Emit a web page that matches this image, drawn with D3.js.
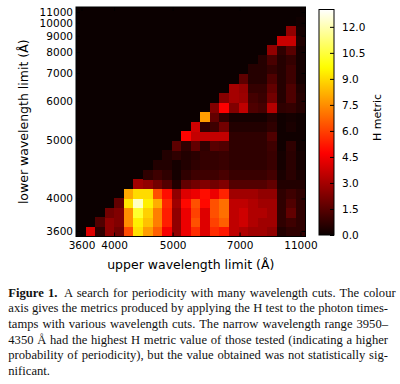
<!DOCTYPE html>
<html><head><meta charset="utf-8">
<script src="https://cdn.jsdelivr.net/npm/d3@7"></script>
<style>body{margin:0;background:#fff}svg{display:block}</style>
</head><body><svg id="c" width="400" height="384"></svg>
<script>
// number of wavelength bins along each axis
const nBins = 24;
// H metric; row i = lower-limit bin i (bottom to top); values start at upper-limit bin i+1
const hRows = [
  [4.1,0.7,2.6,2.0,6.2,9.1,7.8,6.6,4.6,2.6,4.4,5.6,4.1,5.6,5.2,3.5,3.2,2.9,2.9,2.6,0.45,0.7,0.7],
  [1.35,2.6,2.3,7.5,9.4,8.5,7.2,5.3,2.6,4.4,6.3,4.1,6.0,6.6,3.5,3.8,3.2,2.9,2.9,0.7,1.0,0.7],
  [2.0,2.3,7.5,10.3,8.8,7.2,5.3,2.6,4.4,6.0,4.1,6.3,6.9,3.5,3.8,3.2,3.2,2.9,0.7,1.7,0.7],
  [1.7,9.2,12.2,9.4,8.1,5.5,2.9,4.9,6.3,4.9,6.3,6.9,3.5,3.5,3.2,2.9,2.9,0.7,1.35,0.7],
  [8.0,9.0,9.0,6.3,5.0,2.6,4.1,4.4,5.0,4.4,5.4,2.9,2.9,2.9,2.6,2.6,0.7,1.0,0.7],
  [2.9,2.6,2.0,1.4,0.45,1.7,2.0,2.3,2.0,2.3,1.4,1.4,1.4,1.4,1.7,0.45,0.45,0.45],
  [0.7,1.0,0.7,0.2,0.7,1.0,1.0,1.0,1.2,0.9,0.9,0.9,0.9,1.1,0.3,0.6,0.3],
  [0.45,0.45,0.2,0.45,0.7,0.8,0.8,0.9,0.7,0.7,0.7,0.7,0.9,0.2,0.6,0.2],
  [0.45,0.7,0.45,0.6,0.8,0.8,0.9,0.7,0.7,0.7,0.7,0.9,0.2,0.6,0.2],
  [1.6,0.7,1.7,0.7,1.5,1.35,0.7,0.7,0.7,0.7,1.0,0.1,0.7,0.1],
  [4.8,3.6,3.6,3.6,3.6,0.7,0.7,0.7,0.7,1.35,0.1,0.1,0.1],
  [3.8,0.7,1.0,2.0,0.45,0.45,0.45,0.45,0.7,0.1,0.3,0.1],
  [7.8,1.7,0.7,0.2,0.2,0.2,0.2,0.5,0.1,0.2,0.1],
  [2.3,4.7,2.3,3.5,1.3,1.1,3.3,0.7,0.8,0.5],
  [2.4,3.0,2.8,1.1,0.9,2.0,0.5,1.3,0.5],
  [3.0,2.7,0.8,0.8,1.7,0.5,1.3,0.4],
  [1.6,0.5,0.5,1.3,0.5,1.0,0.2],
  [0.5,0.5,0.8,0.5,1.0,0.2],
  [0.5,1.2,0.5,0.8,0.2],
  [2.6,0.7,1.5,0.2],
  [3.7,3.7,0.4],
  [2.6,0.2],
  [0.1]
];
const xTickLabels = [3600,4000,5000,7000,11000];
const yTickLabels = [3600,4000,5000,6000,7000,8000,9000,10000,11000];
const cbTicks = [0,1.5,3,4.5,6,7.5,9,10.5,12];
const invLambdaEdges = [2.8249e-4, 0.8657e-4]; // 1/Å at the two ends of the grid
const hMin = 0, hMax = 13.0;
const captionLines = [
  "A search for periodicity with many wavelength cuts. The colour",
  "axis gives the metrics produced by applying the H test to the photon times-",
  "tamps with various wavelength cuts. The narrow wavelength range 3950–",
  "4350 Å had the highest H metric value of those tested (indicating a higher",
  "probability of periodicity), but the value obtained was not statistically sig-",
  "nificant."
];

const svg = d3.select("#c");
const L = 76, R = 305.5, T = 7, B = 236.5;
const sans = "DejaVu Sans";

// colormap (matplotlib 'hot')
const hot = d3.scaleLinear()
  .domain([0, 0.365079, 0.746032, 1].map(t => hMin + t*(hMax-hMin)))
  .range(["#0b0000","#ff0000","#ffff00","#ffffff"])
  .interpolate(d3.interpolateRgb).clamp(true);

const xb = d3.scaleBand().domain(d3.range(nBins)).range([L, R]);
const yb = d3.scaleBand().domain(d3.range(nBins)).range([B, T]);
const xs = d3.scaleLinear().domain(invLambdaEdges).range([L, R]);
const ys = d3.scaleLinear().domain(invLambdaEdges).range([B, T]);

svg.append("rect").attr("x", L).attr("y", T).attr("width", R-L).attr("height", B-T).attr("fill", hot(0));

const cells = [];
hRows.forEach((row, i) => row.forEach((v, k) => cells.push({r: i, c: i+1+k, v})));
svg.append("g").selectAll("rect").data(cells).join("rect")
  .attr("x", d => xb(d.c)).attr("y", d => yb(d.r))
  .attr("width", xb.bandwidth()+0.4).attr("height", yb.bandwidth()+0.4)
  .attr("fill", d => hot(d.v)).attr("shape-rendering","crispEdges");

function styleAxis(g){
  g.select(".domain").remove();
  g.selectAll("text").attr("font-family", sans).attr("font-size", 10.5).attr("fill","#000");
  g.selectAll("line").attr("stroke","#000");
}
const fmt = d => Math.round(1/d);
svg.append("g").attr("transform",`translate(0,${B})`)
  .call(d3.axisBottom(xs).tickValues(xTickLabels.map(v=>1/v)).tickFormat(fmt).tickSizeInner(-4).tickSizeOuter(0).tickPadding(5))
  .call(styleAxis);
svg.append("g").attr("transform",`translate(0,${T})`)
  .call(d3.axisTop(xs).tickValues(xTickLabels.map(v=>1/v)).tickFormat("").tickSizeInner(-4).tickSizeOuter(0))
  .call(styleAxis);
svg.append("g").attr("transform",`translate(${L},0)`)
  .call(d3.axisLeft(ys).tickValues(yTickLabels.map(v=>1/v)).tickFormat(fmt).tickSizeInner(-4).tickSizeOuter(0).tickPadding(3))
  .call(styleAxis);
svg.append("g").attr("transform",`translate(${R},0)`)
  .call(d3.axisRight(ys).tickValues(yTickLabels.map(v=>1/v)).tickFormat("").tickSizeInner(-4).tickSizeOuter(0))
  .call(styleAxis);

svg.append("rect").attr("x", L).attr("y", T).attr("width", R-L).attr("height", B-T)
  .attr("fill","none").attr("stroke","#000").attr("stroke-width",1);

svg.append("text").attr("x", (L+R)/2).attr("y", 268.5).attr("text-anchor","middle")
  .attr("font-family", sans).attr("font-size", 12.5).text("upper wavelength limit (Å)");
svg.append("text").attr("transform",`translate(27.5,${(T+B)/2}) rotate(-90)`).attr("text-anchor","middle")
  .attr("font-family", sans).attr("font-size", 12.5).text("lower wavelength limit (Å)");

// colorbar
const cbL = 319, cbW = 15, cbT = 9.5, cbB = 235;
const cy = d3.scaleLinear().domain([hMin, hMax]).range([cbB, cbT]);
const grad = svg.append("defs").append("linearGradient").attr("id","g")
  .attr("x1",0).attr("y1",1).attr("x2",0).attr("y2",0);
d3.range(0, 1.0001, 0.02).forEach(t => grad.append("stop").attr("offset", t).attr("stop-color", hot(hMin + t*(hMax-hMin))));
svg.append("rect").attr("x", cbL).attr("y", cbT).attr("width", cbW).attr("height", cbB-cbT).attr("fill","url(#g)");
svg.append("g").attr("transform",`translate(${cbL+cbW},0)`)
  .call(d3.axisRight(cy).tickValues(cbTicks).tickFormat(d3.format(".1f")).tickSizeInner(-4).tickSizeOuter(0).tickPadding(8))
  .call(styleAxis);
svg.append("rect").attr("x", cbL).attr("y", cbT).attr("width", cbW).attr("height", cbB-cbT)
  .attr("fill","none").attr("stroke","#000").attr("stroke-width",1);
svg.append("text").attr("transform",`translate(380.5,117.5) rotate(-90)`).attr("text-anchor","middle")
  .attr("font-family", sans).attr("font-size", 11).text("H metric");

// caption
const capL = 8.3, capR = 388, capY0 = 296.5, capDy = 15.7;
const serif = "Liberation Serif";
captionLines.forEach((line, i) => {
  const t = svg.append("text").attr("x", capL).attr("y", capY0 + i*capDy)
    .attr("font-family", serif).attr("font-size", 12.6).attr("fill","#111");
  if (i === 0) {
    t.append("tspan").attr("font-weight","bold").text("Figure 1.");
    t.append("tspan").attr("dx", 6.5).text(line);
  } else t.text(line);
  if (i < captionLines.length - 1) {
    const nat = t.node().getComputedTextLength();
    const nSp = (line.match(/ /g) || []).length;
    if (nSp > 0) t.attr("word-spacing", (capR - capL - nat) / nSp);
  }
});
</script></body></html>
